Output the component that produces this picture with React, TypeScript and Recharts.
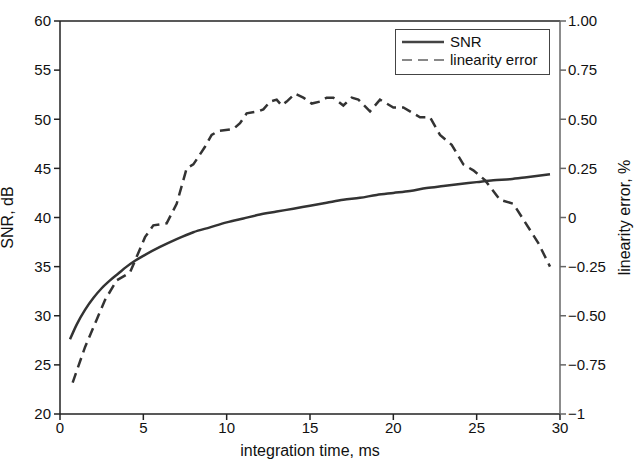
import React from "react";
import {
  LineChart,
  Line,
  XAxis,
  YAxis,
  ReferenceLine,
} from "recharts";

// SNR, dB against integration time, ms
const snrTime = [0.6, 1, 1.5, 2, 2.5, 3, 3.5, 4, 4.5, 5, 6, 7, 8, 9, 10, 11, 12, 13, 14, 15, 16, 17, 18, 19, 20, 21, 22, 23, 24, 25, 26, 27, 28, 29.4];
const snrValues = [27.6, 29.1, 30.6, 31.8, 32.8, 33.6, 34.3, 35.0, 35.6, 36.1, 37.0, 37.8, 38.5, 39.0, 39.5, 39.9, 40.3, 40.6, 40.9, 41.2, 41.5, 41.8, 42.0, 42.3, 42.5, 42.7, 43.0, 43.2, 43.4, 43.6, 43.8, 43.9, 44.1, 44.4];

// linearity error, % against integration time, ms
const errTime = [0.76, 1.5, 2.2, 2.7, 3.4, 4.2, 4.6, 5.1, 5.6, 6.4, 7.0, 7.6, 8.0, 8.7, 9.1, 9.5, 10.4, 10.8, 11.2, 11.9, 12.2, 12.6, 13.0, 13.3, 13.6, 14.1, 14.6, 15.1, 15.6, 16.0, 16.4, 17.0, 17.5, 17.9, 18.6, 19.2, 20.0, 20.6, 21.6, 22.2, 22.8, 23.5, 24.2, 24.8, 25.5, 26.4, 27.2, 27.8, 28.7, 29.4];
const errValues = [-0.84, -0.66, -0.52, -0.42, -0.32, -0.28, -0.2, -0.1, -0.04, -0.03, 0.07, 0.25, 0.27, 0.36, 0.42, 0.44, 0.45, 0.48, 0.53, 0.54, 0.55, 0.59, 0.6, 0.57, 0.59, 0.63, 0.61, 0.58, 0.59, 0.61, 0.61, 0.57, 0.61, 0.6, 0.54, 0.6, 0.56, 0.56, 0.51, 0.51, 0.42, 0.37, 0.27, 0.24, 0.19, 0.09, 0.07, -0.01, -0.13, -0.25];

const timeTicks = [0, 5, 10, 15, 20, 25, 30];
const snrTicks = [20, 25, 30, 35, 40, 45, 50, 55, 60];
const errTicks = [-1, -0.75, -0.5, -0.25, 0, 0.25, 0.5, 0.75, 1];
const errTickLabels = ["\u22121", "\u22120.75", "\u22120.50", "\u22120.25", "0", "0.25", "0.50", "0.75", "1.00"];
const seriesNames = ["SNR", "linearity error"];

const snrData = snrTime.map((t, i) => ({ t, snr: snrValues[i] }));
const errData = errTime.map((t, i) => ({ t, err: errValues[i] }));

const font = "'Liberation Sans', Arial, sans-serif";
const tickStyle = { fontSize: 15, fill: "#111", fontFamily: font };
const labelStyle = { fontSize: 16, fill: "#111", fontFamily: font, textAnchor: "middle" as const };

function ChartLegend() {
  return (
    <div
      style={{
        position: "absolute",
        left: 395,
        top: 29,
        border: "1px solid #444",
        background: "#fff",
        width: 155,
        height: 46,
        boxSizing: "border-box",
        fontFamily: font,
        fontSize: 15,
        color: "#111",
        padding: "3px 6px",
        lineHeight: "18px",
      }}
    >
      <div style={{ display: "flex", alignItems: "center" }}>
        <svg width={42} height={10} style={{ marginRight: 6 }}>
          <line x1={0} y1={5} x2={42} y2={5} stroke="#444" strokeWidth={2.5} />
        </svg>
        {seriesNames[0]}
      </div>
      <div style={{ display: "flex", alignItems: "center" }}>
        <svg width={42} height={10} style={{ marginRight: 6 }}>
          <line x1={0} y1={5} x2={42} y2={5} stroke="#888" strokeWidth={2} strokeDasharray="10 6" />
        </svg>
        {seriesNames[1]}
      </div>
    </div>
  );
}

export default function App() {
  return (
    <div style={{ position: "absolute", left: 0, top: 0, width: 636, height: 459, background: "#fff" }}>
      <LineChart width={636} height={459} margin={{ top: 21, right: 16, bottom: 15, left: 0 }}>
        <XAxis
          type="number"
          dataKey="t"
          domain={[0, 30]}
          ticks={timeTicks}
          allowDataOverflow
          height={30}
          tick={tickStyle}
          tickSize={6}
          tickMargin={2}
          axisLine={{ stroke: "#222", strokeWidth: 1.5 }}
          tickLine={{ stroke: "#222", strokeWidth: 1.5 }}
          label={{ value: "integration time, ms", position: "insideBottom", offset: -12, style: labelStyle }}
        />
        <YAxis
          yAxisId="left"
          domain={[20, 60]}
          ticks={snrTicks}
          width={60}
          tick={tickStyle}
          tickSize={6}
          tickMargin={3}
          axisLine={{ stroke: "#222", strokeWidth: 1.5 }}
          tickLine={{ stroke: "#222", strokeWidth: 1.5 }}
          label={{ value: "SNR, dB", angle: -90, position: "insideLeft", offset: 7, style: labelStyle }}
        />
        <YAxis
          yAxisId="right"
          orientation="right"
          domain={[-1, 1]}
          ticks={errTicks}
          width={60}
          tick={tickStyle}
          tickFormatter={(v: number) => errTickLabels[errTicks.indexOf(v)] ?? String(v)}
          tickSize={6}
          tickMargin={2}
          axisLine={{ stroke: "#666", strokeWidth: 1.5 }}
          tickLine={{ stroke: "#666", strokeWidth: 1.5 }}
          label={{ value: "linearity error, %", angle: -90, position: "insideRight", offset: -4, style: labelStyle }}
        />
        <ReferenceLine yAxisId="left" y={60} stroke="#222" strokeWidth={1.5} />
        <Line
          data={snrData}
          yAxisId="left"
          dataKey="snr"
          name={seriesNames[0]}
          type="monotone"
          stroke="#333"
          strokeWidth={2.5}
          dot={false}
          isAnimationActive={false}
        />
        <Line
          data={errData}
          yAxisId="right"
          dataKey="err"
          name={seriesNames[1]}
          type="linear"
          stroke="#333"
          strokeWidth={2.5}
          strokeDasharray="10 6"
          dot={false}
          isAnimationActive={false}
        />
      </LineChart>
      <ChartLegend />
    </div>
  );
}
